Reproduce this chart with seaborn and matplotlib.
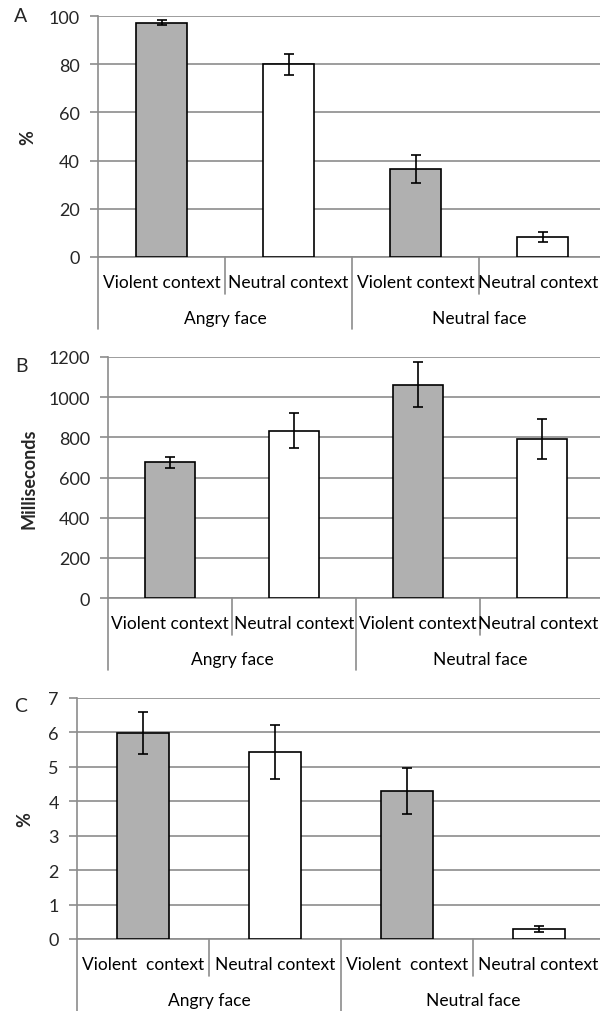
import matplotlib
matplotlib.use("Agg")
import matplotlib.pyplot as plt
import matplotlib.transforms as mtransforms
import seaborn as sns
import pandas as pd

groups = ["Angry face", "Angry face", "Neutral face", "Neutral face"]
contexts = ["Violent context", "Neutral context", "Violent context", "Neutral context"]
contexts_c = ["Violent  context", "Neutral context", "Violent  context", "Neutral context"]

acc_mean = [97.2, 80.0, 36.5, 8.4]
acc_err = [1.0, 4.4, 6.0, 2.0]

rt_mean = [676, 833, 1062, 792]
rt_err = [28, 88, 113, 101]

err_mean = [5.98, 5.44, 4.29, 0.29]
err_err = [0.60, 0.78, 0.67, 0.10]

GRID = "#8c8c8c"
BAR_COLORS = ["#b0b0b0", "#ffffff", "#b0b0b0", "#ffffff"]
FS = 13
FS_CAT = 12.5

sns.set_theme(style="white")
plt.rcParams["font.family"] = ["Lato", "DejaVu Sans"]

fig = plt.figure(figsize=(6.0, 10.12), dpi=100)
W, H = 600, 1012


def panel(rect_px, means, errs, labels, ylim, yticks, ylabel, ylabel_x, letter, letter_xy):
    left, top, width, height = rect_px
    ax = fig.add_axes([left / W, 1 - (top + height) / H, width / W, height / H])
    keys = [f"{g}|{c}|{i}" for i, (g, c) in enumerate(zip(groups, labels))]
    df = pd.DataFrame({"key": keys, "value": means})
    sns.barplot(data=df, x="key", y="value", hue="key", palette=BAR_COLORS,
                order=keys, width=0.4, edgecolor="black", linewidth=1.2,
                legend=False, ax=ax, zorder=3)
    centers = [p.get_x() + p.get_width() / 2 for p in ax.patches]
    ax.errorbar(centers, means, yerr=errs, fmt="none", ecolor="black",
                elinewidth=1.2, capsize=3.5, capthick=1.2, zorder=4)

    ax.set_xlim(-0.5, 3.5)
    ax.set_ylim(*ylim)
    ax.set_yticks(yticks)
    ax.set_yticklabels([str(t) for t in yticks], fontsize=FS)
    ax.yaxis.grid(True, color=GRID, linewidth=1.2, zorder=0)
    ax.set_axisbelow(True)
    ax.tick_params(axis="y", length=6, width=1.2, color=GRID, pad=7, left=True)
    ax.set_xticks([])
    ax.set_xlabel("")
    ax.set_ylabel(ylabel, fontsize=FS, fontweight="bold")
    ax.yaxis.set_label_coords(ylabel_x, 0.5)
    for s in ["top", "right"]:
        ax.spines[s].set_visible(False)
    for s in ["left", "bottom"]:
        ax.spines[s].set_color(GRID)
        ax.spines[s].set_linewidth(1.2)

    tr = ax.get_xaxis_transform()
    edge = mtransforms.blended_transform_factory(fig.transFigure, ax.transAxes)
    # category labels (last one kept inside the figure edge) and group labels
    for i, lab in enumerate(labels):
        if i == len(labels) - 1:
            ax.text(598 / W, -25 / height, lab, transform=edge, ha="right",
                    va="center", fontsize=FS_CAT, color="black")
        else:
            ax.text(i, -25 / height, lab, transform=tr, ha="center", va="center",
                    fontsize=FS_CAT, color="black")
    for gx, g in [(0.5, "Angry face"), (2.5, "Neutral face")]:
        ax.text(gx, -61 / height, g, transform=tr, ha="center", va="center",
                fontsize=FS_CAT, color="black")
    # separator lines below the axis
    for x, depth in [(-0.5, 72), (0.5, 37), (1.5, 72), (2.5, 37), (3.5, 72)]:
        ax.plot([x, x], [0, -depth / height], transform=tr, color=GRID,
                linewidth=1.2, clip_on=False)

    fig.text(letter_xy[0] / W, 1 - letter_xy[1] / H, letter, fontsize=14,
             ha="center", va="center")
    return ax


panel((98, 17, 508, 241), acc_mean, acc_err, contexts, (0, 100),
      [0, 20, 40, 60, 80, 100], "%", -0.122, "A", (21, 17))
panel((108, 358, 496, 241), rt_mean, rt_err, contexts, (0, 1200),
      [0, 200, 400, 600, 800, 1000, 1200], "Milliseconds", -0.143, "B", (21, 366))
panel((77, 699, 528, 241), err_mean, err_err, contexts_c, (0, 7),
      [0, 1, 2, 3, 4, 5, 6, 7], "%", -0.083, "C", (21, 707))

fig.savefig("out.png", dpi=100)
plt.close(fig)
